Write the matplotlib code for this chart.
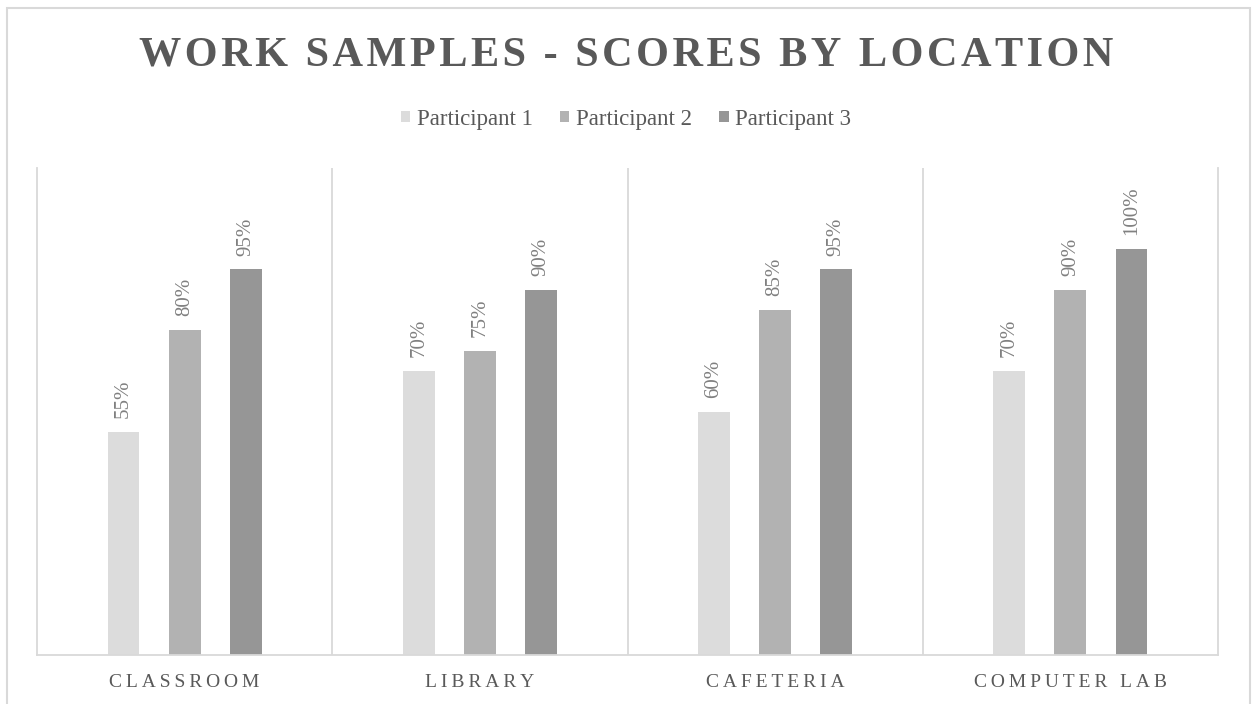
import matplotlib
matplotlib.use("Agg")
import matplotlib.pyplot as plt
from matplotlib.patches import Rectangle
import numpy as np

# chart data
locations = ["CLASSROOM", "LIBRARY", "CAFETERIA", "COMPUTER LAB"]
participants = ["Participant 1", "Participant 2", "Participant 3"]
p1_scores = [55, 70, 60, 70]
p2_scores = [80, 75, 85, 90]
p3_scores = [95, 90, 95, 100]
colors = ["#dcdcdc", "#b2b2b2", "#969696"]
title = "WORK SAMPLES - SCORES BY LOCATION"

plt.rcParams['font.family'] = ['Liberation Serif', 'DejaVu Serif']

fig = plt.figure(figsize=(12.52, 7.04), dpi=100)
ax = fig.add_axes([37 / 1252, 1 - 655 / 704, (1218 - 37) / 1252, (655 - 168) / 704])

# light outer frame like the office chart
fig.patches.append(Rectangle((7 / 1252, -0.01), (1250 - 7) / 1252, 1 - 8 / 704 + 0.01,
                             transform=fig.transFigure, fill=False,
                             edgecolor="#d9d9d9", linewidth=1.5))

x = np.arange(len(locations))
step = 0.207
width = 0.108
series = [p1_scores, p2_scores, p3_scores]
for i, (vals, name, col) in enumerate(zip(series, participants, colors)):
    xs = x + (i - 1) * step
    ax.bar(xs, vals, width=width, color=col, label=name, zorder=2)
    for xx, v in zip(xs, vals):
        ax.annotate(f"{v}%", (xx, v), xytext=(0, 10), textcoords="offset points",
                    rotation=90, ha="center", va="bottom", fontsize=15, color="#808080")

ax.set_xlim(-0.5, len(locations) - 0.5)
ax.set_ylim(0, 120)
ax.set_yticks([])

# separators between the categories
for s in np.arange(0.5, len(locations) - 0.5, 1):
    ax.axvline(s, color="#d9d9d9", linewidth=1.3, zorder=1)
for side in ["left", "right", "bottom"]:
    ax.spines[side].set_color("#d9d9d9")
    ax.spines[side].set_linewidth(1.3)
ax.spines["top"].set_visible(False)

spaced = ["\u2009".join(name) for name in locations]
ax.set_xticks(x)
ax.set_xticklabels(spaced, fontsize=14, color="#595959")
ax.tick_params(axis="x", length=0, pad=14)

fig.text(0.5, 1 - 56 / 704, "\u200a".join(title), ha="center", va="center",
         fontsize=30.4, fontweight="bold", color="#595959")

fig.legend(loc="center", bbox_to_anchor=(0.5, 1 - 119 / 704), ncol=3, frameon=False,
           fontsize=16.5, handlelength=0.4, handleheight=0.4, handletextpad=0.3,
           columnspacing=1.2, labelcolor="#595959")

fig.savefig("out.png", dpi=100)
